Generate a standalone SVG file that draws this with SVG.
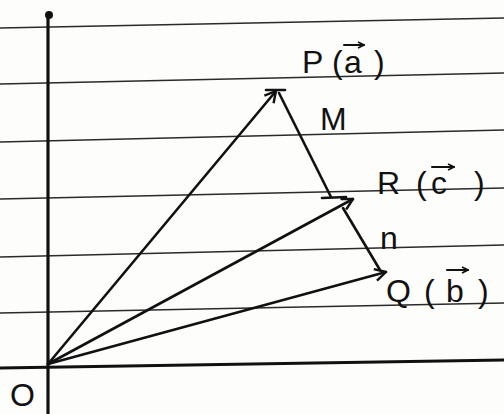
<svg xmlns="http://www.w3.org/2000/svg" width="504" height="414" viewBox="0 0 504 414">
<style>
.paper{stroke:#2a2a2a;stroke-width:1.6;fill:none}
.axis{stroke:#111;stroke-width:3.2;fill:none;stroke-linecap:round}
.vec{stroke:#111;stroke-width:2.6;fill:none;stroke-linecap:round}
.lbl{font-family:"Liberation Sans",Arial,sans-serif;font-size:32px;fill:#111}
.oa{stroke:#111;stroke-width:2;fill:none;stroke-linecap:round}
</style>
<defs>
<marker id="ah" markerWidth="14" markerHeight="14" refX="12" refY="7" orient="auto" markerUnits="userSpaceOnUse">
<polyline points="1,1 12,7 1,13" fill="none" stroke="#111" stroke-width="2.4" stroke-linejoin="round"/>
</marker>
<marker id="sa" markerWidth="8" markerHeight="8" refX="7" refY="4" orient="auto" markerUnits="userSpaceOnUse">
<polyline points="1,1 7,4 1,7" fill="none" stroke="#111" stroke-width="1.6"/>
</marker>
</defs>
<rect width="504" height="414" fill="#fdfdfc"/>
<g id="paper-lines">
<line class="paper" x1="0" y1="28" x2="504" y2="18"/>
<line class="paper" x1="0" y1="84" x2="504" y2="73"/>
<line class="paper" x1="0" y1="142" x2="504" y2="130"/>
<line class="paper" x1="0" y1="199" x2="504" y2="188"/>
<line class="paper" x1="0" y1="257" x2="504" y2="245"/>
<line class="paper" x1="0" y1="313" x2="504" y2="303"/>
</g>
<g id="axes">
<line class="axis" x1="0" y1="368" x2="504" y2="360"/>
<line class="axis" x1="48" y1="16" x2="48" y2="414"/>
<circle cx="49" cy="15" r="4" fill="#111"/>
</g>
<g id="connectors">
<line class="vec" x1="48" y1="364" x2="276" y2="91" marker-end="url(#ah)"/>
<line class="vec" x1="48" y1="364" x2="353" y2="199" marker-end="url(#ah)"/>
<line class="vec" x1="48" y1="364" x2="386" y2="272" marker-end="url(#ah)"/>
<line class="vec" x1="279" y1="93" x2="331" y2="197"/>
<line class="vec" x1="322" y1="198" x2="346" y2="197"/>
<line class="vec" x1="343" y1="208" x2="380" y2="270"/>
<line class="vec" x1="266" y1="90" x2="285" y2="90"/>
</g>
<g id="node-O"><text class="lbl" x="10" y="406" font-size="24">O</text></g>
<g id="node-P">
<text class="lbl" y="73"><tspan x="302">P</tspan><tspan x="332">(</tspan><tspan x="344">a</tspan><tspan x="374">)</tspan></text>
<line class="oa" x1="344" y1="45" x2="364" y2="45" marker-end="url(#sa)"/>
</g>
<g id="node-M"><text class="lbl" x="320" y="130" font-size="24">M</text></g>
<g id="node-R">
<text class="lbl" y="194"><tspan x="377">R</tspan><tspan x="416">(</tspan><tspan x="431">c</tspan><tspan x="474">)</tspan></text>
<line class="oa" x1="432" y1="167" x2="454" y2="167" marker-end="url(#sa)"/>
</g>
<g id="node-n"><text class="lbl" x="380" y="249">n</text></g>
<g id="node-Q">
<text class="lbl" y="302"><tspan x="386">Q</tspan><tspan x="424">(</tspan><tspan x="446">b</tspan><tspan x="478">)</tspan></text>
<line class="oa" x1="447" y1="270" x2="468" y2="270" marker-end="url(#sa)"/>
</g>
</svg>
